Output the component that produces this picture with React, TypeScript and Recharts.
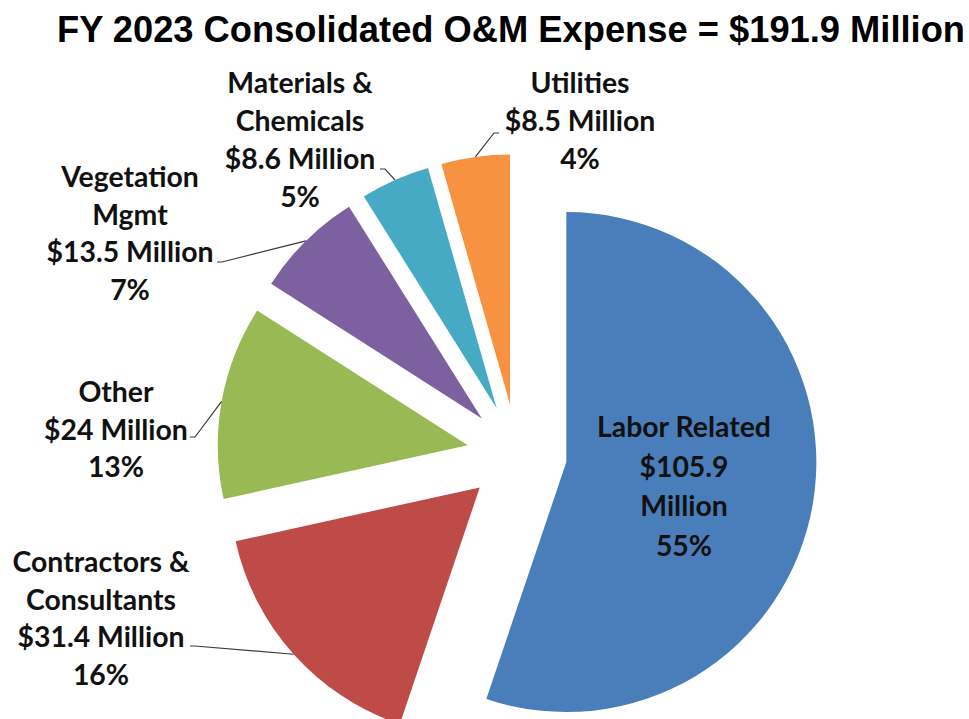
import React from "react";
import { PieChart, Pie, Cell } from "recharts";

// FY 2023 O&M expense breakdown, clockwise from 12 o'clock
const categories = [
  "Labor Related",
  "Contractors & Consultants",
  "Other",
  "Vegetation Mgmt",
  "Materials & Chemicals",
  "Utilities",
];
const amounts = [105.9, 31.4, 24, 13.5, 8.6, 8.5];
const percents = [55, 16, 13, 7, 5, 4];
const nameLines = [
  ["Labor Related"],
  ["Contractors &", "Consultants"],
  ["Other"],
  ["Vegetation", "Mgmt"],
  ["Materials &", "Chemicals"],
  ["Utilities"],
];
const colors = ["#4A7EBB", "#BE4B48", "#98B954", "#7D60A0", "#46AAC5", "#F69240"];
const title = "FY 2023 Consolidated O&M Expense = $191.9 Million";

const data = categories.map((name, i) => ({ name, value: amounts[i] }));
const total = amounts.reduce((a, b) => a + b, 0);

const CX = 512;
const CY = 449;
const RADIUS = 250;
const EXPLODE = 50;
const RAD = Math.PI / 180;

// recharts angle convention: degrees counter-clockwise from 3 o'clock
const midAngles = amounts.map((v, i) => {
  const before = amounts.slice(0, i).reduce((a, b) => a + b, 0);
  return 90 - ((before + v / 2) / total) * 360;
});
const offsetFor = (mid: number) => ({
  dx: EXPLODE * Math.cos(-mid * RAD),
  dy: EXPLODE * Math.sin(-mid * RAD),
});

// hand placed label boxes, like the original Excel layout
const labelSpots = [
  { x: 684, y: 437, gap: 39.5, lead: null as null | number[] },
  { x: 101, y: 572, gap: 37.7, lead: [190, 646] },
  { x: 116, y: 402, gap: 37.7, lead: [190, 437] },
  { x: 130, y: 187, gap: 37.7, lead: [217, 262] },
  { x: 300, y: 93, gap: 38, lead: [380, 169] },
  { x: 580, y: 93, gap: 38, lead: [499, 133] },
];

const labelText = (i: number) => {
  const money = `$${amounts[i]} Million`;
  const moneyLines = i === 0 ? [`$${amounts[i]}`, "Million"] : [money];
  return [...nameLines[i], ...moneyLines, `${percents[i]}%`];
};

const renderLabel = (props: any) => {
  const { cx, cy, midAngle, outerRadius, index } = props;
  const spot = labelSpots[index];
  const lines = labelText(index);
  const off = offsetFor(midAngle);
  const ax = cx + off.dx + outerRadius * Math.cos(-midAngle * RAD);
  const ay = cy + off.dy + outerRadius * Math.sin(-midAngle * RAD);
  let leader = null;
  if (spot.lead) {
    const [sx, sy] = spot.lead;
    const ex = sx + (ax > sx ? 5 : -5);
    leader = (
      <polyline
        points={`${sx},${sy} ${ex},${sy} ${ax},${ay}`}
        fill="none"
        stroke="#3a3a3a"
        strokeWidth={1.2}
      />
    );
  }
  return (
    <g key={`lbl-${index}`}>
      {leader}
      <text
        x={spot.x}
        y={spot.y}
        textAnchor="middle"
        fontFamily="Lato, 'Open Sans', sans-serif"
        fontWeight={700}
        fontSize={28.4}
        fill="#111"
      >
        {lines.map((t, k) => (
          <tspan key={k} x={spot.x} y={spot.y + k * spot.gap}>
            {t}
          </tspan>
        ))}
      </text>
    </g>
  );
};

export default function App() {
  return (
    <div
      style={{
        position: "absolute",
        left: 0,
        top: 0,
        width: 969,
        height: 719,
        background: "#fff",
      }}
    >
      <div
        style={{
          position: "absolute",
          left: 36,
          top: 12,
          width: 950,
          textAlign: "center",
          whiteSpace: "nowrap",
          fontFamily: "'Liberation Sans', Arial, sans-serif",
          fontWeight: 700,
          fontSize: 36.3,
          lineHeight: "36px",
          color: "#000",
        }}
      >
        {title}
      </div>
      <PieChart width={969} height={719} style={{ position: "absolute", left: 0, top: 0 }}>
        <Pie
          data={data}
          dataKey="value"
          nameKey="name"
          cx={CX}
          cy={CY}
          outerRadius={RADIUS}
          startAngle={90}
          endAngle={-270}
          stroke="none"
          label={renderLabel}
          labelLine={false}
          isAnimationActive={false}
        >
          {data.map((d, i) => {
            const off = offsetFor(midAngles[i]);
            return (
              <Cell
                key={d.name}
                fill={colors[i]}
                transform={`translate(${off.dx} ${off.dy})`}
              />
            );
          })}
        </Pie>
      </PieChart>
    </div>
  );
}
